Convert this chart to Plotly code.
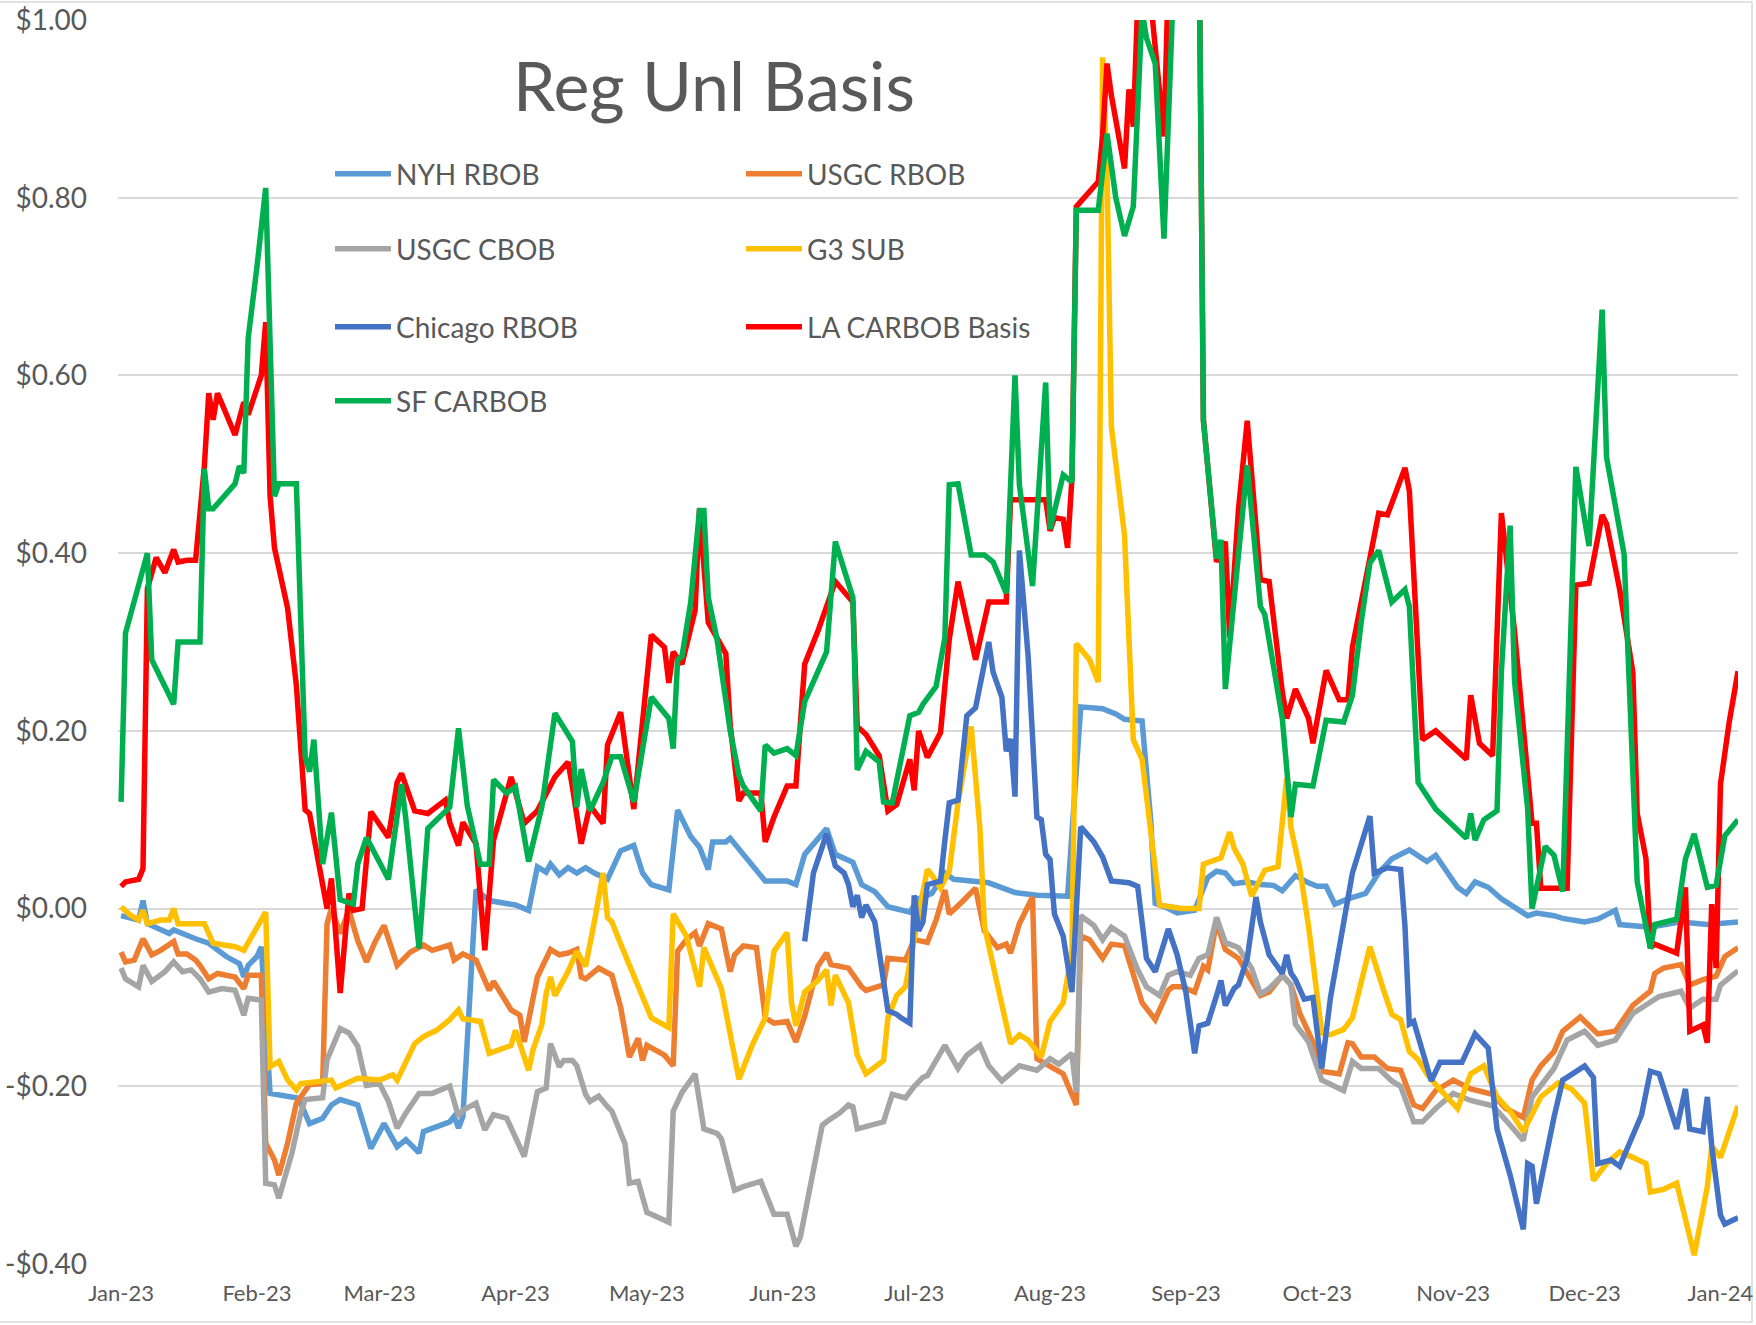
import pandas as pd
import plotly.graph_objects as go

# ---------------- data (day 0 = 2023-01-01) ----------------
BASE = pd.Timestamp("2023-01-01")

nyh_day = [0, 4, 5, 6, 11, 12, 17, 20, 24, 27, 28, 29, 31, 32, 34, 40, 41, 43, 46, 48, 50, 54, 57, 60, 63, 65,
           68, 69, 75, 76, 77, 78, 81, 84, 90, 93, 95, 97, 98, 100, 102, 104, 106, 108, 111, 114, 117, 119, 121,
           125, 127, 130, 132, 134, 135, 138, 139, 143, 147, 152, 154, 156, 161, 163, 167, 169, 172, 175, 180,
           182, 185, 188, 190, 194, 198, 204, 209, 216, 219, 224, 227, 229, 233, 235, 236, 239, 241, 245, 248,
           250, 252, 254, 257, 260, 263, 265, 268, 271, 273, 275, 277, 280, 284, 287, 290, 294, 296, 298, 300,
           303, 305, 307, 309, 312, 315, 321, 323, 327, 329, 334, 337, 341, 342, 349, 356, 362, 369]
nyh_val = [-0.008, -0.013, 0.009, -0.017, -0.028, -0.024, -0.034, -0.039, -0.054, -0.062, -0.077, -0.064,
           -0.054, -0.043, -0.208, -0.213, -0.219, -0.242, -0.236, -0.221, -0.215, -0.221, -0.270, -0.242,
           -0.268, -0.260, -0.275, -0.251, -0.240, -0.234, -0.247, -0.234, 0.021, 0.009, 0.004, -0.002, 0.047,
           0.041, 0.050, 0.038, 0.046, 0.040, 0.046, 0.040, 0.033, 0.065, 0.071, 0.040, 0.027, 0.021, 0.111,
           0.081, 0.069, 0.044, 0.075, 0.075, 0.079, 0.056, 0.031, 0.031, 0.027, 0.061, 0.090, 0.061, 0.052,
           0.027, 0.019, 0.002, -0.004, 0.011, 0.017, 0.040, 0.033, 0.031, 0.029, 0.018, 0.015, 0.014, 0.227,
           0.225, 0.219, 0.213, 0.211, 0.098, 0.006, 0.000, -0.005, -0.002, 0.035, 0.042, 0.040, 0.028, 0.030,
           0.027, 0.026, 0.020, 0.037, 0.029, 0.025, 0.025, 0.005, 0.011, 0.017, 0.040, 0.056, 0.066, 0.060,
           0.053, 0.060, 0.037, 0.024, 0.017, 0.030, 0.024, 0.011, -0.008, -0.005, -0.008, -0.011, -0.015,
           -0.012, -0.002, -0.018, -0.021, -0.015, -0.018, -0.015]

usgc_rbob_day = [0, 1, 3, 5, 7, 9, 12, 13, 15, 17, 18, 20, 22, 26, 28, 29, 32, 33, 35, 36, 38, 40, 43, 46, 47,
                 48, 50, 52, 54, 56, 58, 60, 63, 66, 69, 71, 75, 76, 78, 81, 84, 85, 89, 91, 92, 95, 98, 100,
                 102, 104, 105, 106, 109, 112, 114, 116, 118, 119, 120, 124, 126, 127, 129, 131, 132, 134, 137,
                 139, 140, 142, 145, 147, 149, 152, 154, 156, 159, 161, 162, 166, 169, 170, 174, 175, 179, 181,
                 184, 186, 188, 189, 192, 195, 197, 200, 202, 203, 205, 208, 209, 212, 215, 216, 218, 219, 221,
                 224, 226, 229, 231, 233, 236, 239, 240, 242, 245, 247, 248, 250, 252, 255, 258, 260, 262, 265,
                 267, 269, 272, 274, 278, 280, 281, 283, 286, 289, 292, 295, 297, 300, 304, 308, 313, 316, 320,
                 322, 324, 327, 329, 333, 337, 341, 345, 349, 350, 352, 356, 358, 361, 364, 366, 369]
usgc_rbob_val = [-0.049, -0.060, -0.058, -0.034, -0.052, -0.047, -0.037, -0.051, -0.051, -0.058, -0.064,
                 -0.079, -0.073, -0.077, -0.090, -0.075, -0.075, -0.264, -0.283, -0.300, -0.264, -0.219, -0.198,
                 -0.197, -0.017, 0.000, -0.028, -0.002, -0.036, -0.060, -0.037, -0.019, -0.064, -0.049, -0.041,
                 -0.047, -0.041, -0.058, -0.051, -0.058, -0.092, -0.082, -0.114, -0.120, -0.150, -0.077, -0.046,
                 -0.052, -0.050, -0.046, -0.077, -0.079, -0.067, -0.075, -0.111, -0.167, -0.146, -0.171, -0.154,
                 -0.165, -0.177, -0.048, -0.035, -0.027, -0.042, -0.017, -0.023, -0.071, -0.052, -0.042, -0.044,
                 -0.123, -0.129, -0.127, -0.150, -0.121, -0.065, -0.050, -0.063, -0.067, -0.088, -0.092, -0.086,
                 -0.056, -0.058, -0.035, -0.038, -0.013, 0.021, -0.006, 0.008, 0.023, -0.025, -0.044, -0.040,
                 -0.050, -0.017, 0.013, -0.169, -0.177, -0.186, -0.198, -0.221, -0.031, -0.035, -0.056, -0.040,
                 -0.042, -0.073, -0.106, -0.125, -0.092, -0.088, -0.088, -0.094, -0.065, -0.069, -0.015, -0.046,
                 -0.056, -0.081, -0.098, -0.094, -0.075, -0.086, -0.118, -0.150, -0.183, -0.186, -0.151, -0.152,
                 -0.167, -0.167, -0.180, -0.182, -0.221, -0.225, -0.205, -0.193, -0.203, -0.209, -0.225, -0.235,
                 -0.193, -0.177, -0.161, -0.138, -0.122, -0.141, -0.138, -0.109, -0.093, -0.073, -0.067, -0.063,
                 -0.086, -0.080, -0.076, -0.054, -0.044]

usgc_cbob_day = [0, 1, 4, 5, 7, 10, 12, 14, 16, 18, 20, 23, 26, 28, 29, 32, 33, 35, 36, 39, 41, 42, 46, 47, 50,
                 52, 54, 55, 56, 59, 61, 63, 65, 68, 71, 75, 77, 78, 81, 83, 85, 88, 90, 92, 95, 97, 98, 100,
                 101, 103, 104, 106, 107, 109, 111, 112, 115, 116, 118, 120, 121, 125, 126, 128, 131, 133, 136,
                 137, 140, 142, 146, 149, 152, 154, 155, 160, 161, 164, 166, 167, 168, 171, 174, 176, 179, 181,
                 183, 184, 188, 191, 193, 196, 198, 201, 202, 205, 209, 212, 214, 217, 218, 219, 222, 224, 226,
                 229, 232, 234, 237, 239, 241, 244, 246, 248, 250, 252, 255, 258, 260, 262, 265, 267, 268, 271,
                 272, 274, 279, 281, 283, 287, 290, 292, 295, 297, 300, 304, 308, 313, 316, 320, 322, 327, 330,
                 334, 337, 341, 345, 349, 351, 356, 358, 361, 364, 365, 369]
usgc_cbob_val = [-0.067, -0.079, -0.088, -0.064, -0.082, -0.071, -0.060, -0.071, -0.069, -0.079, -0.094,
                 -0.090, -0.092, -0.120, -0.101, -0.103, -0.309, -0.311, -0.326, -0.275, -0.230, -0.215, -0.213,
                 -0.170, -0.135, -0.140, -0.155, -0.174, -0.199, -0.197, -0.217, -0.247, -0.230, -0.208, -0.208,
                 -0.200, -0.234, -0.227, -0.219, -0.249, -0.232, -0.236, -0.258, -0.279, -0.206, -0.202, -0.152,
                 -0.178, -0.171, -0.171, -0.177, -0.209, -0.217, -0.211, -0.223, -0.228, -0.265, -0.309, -0.307,
                 -0.342, -0.344, -0.353, -0.228, -0.207, -0.186, -0.248, -0.253, -0.259, -0.317, -0.313, -0.307,
                 -0.344, -0.344, -0.380, -0.370, -0.244, -0.240, -0.230, -0.221, -0.223, -0.248, -0.244, -0.240,
                 -0.209, -0.213, -0.200, -0.190, -0.188, -0.154, -0.180, -0.165, -0.154, -0.177, -0.194, -0.190,
                 -0.177, -0.182, -0.169, -0.175, -0.163, -0.207, -0.008, -0.019, -0.035, -0.021, -0.031, -0.069,
                 -0.088, -0.098, -0.075, -0.071, -0.075, -0.056, -0.052, -0.010, -0.038, -0.044, -0.067, -0.096,
                 -0.090, -0.075, -0.086, -0.130, -0.150, -0.165, -0.193, -0.205, -0.172, -0.180, -0.180, -0.194,
                 -0.200, -0.240, -0.240, -0.225, -0.208, -0.216, -0.222, -0.238, -0.261, -0.212, -0.180, -0.148,
                 -0.138, -0.154, -0.148, -0.118, -0.106, -0.099, -0.093, -0.112, -0.102, -0.102, -0.086, -0.070]

g3_day = [0, 2, 4, 5, 6, 9, 11, 12, 13, 16, 19, 21, 24, 26, 28, 30, 33, 34, 36, 38, 40, 41, 46, 48, 49, 54, 59,
          62, 63, 67, 69, 72, 75, 77, 78, 82, 84, 86, 89, 90, 93, 94, 96, 97, 98, 99, 102, 104, 106, 108, 110,
          111, 112, 114, 117, 119, 121, 125, 126, 129, 132, 133, 137, 141, 144, 147, 149, 152, 153, 154, 156,
          159, 161, 162, 163, 166, 168, 170, 174, 175, 177, 179, 181, 183, 184, 185, 187, 189, 191, 194, 196,
          197, 200, 203, 205, 207, 210, 212, 215, 216, 217, 218, 221, 223, 224, 225, 226, 229, 231, 233, 237,
          242, 246, 247, 251, 253, 254, 256, 258, 261, 264, 266, 267, 269, 271, 273, 274, 276, 279, 281, 285,
          288, 290, 292, 294, 296, 298, 300, 302, 305, 308, 311, 314, 317, 320, 322, 324, 328, 331, 334, 336,
          339, 342, 345, 348, 349, 352, 355, 359, 362, 363, 365, 369]
g3_val = [0.002, -0.007, -0.013, -0.002, -0.017, -0.013, -0.013, 0.000, -0.017, -0.017, -0.017, -0.039, -0.041,
          -0.043, -0.047, -0.030, -0.004, -0.178, -0.172, -0.193, -0.204, -0.197, -0.195, -0.193, -0.202,
          -0.191, -0.193, -0.187, -0.193, -0.152, -0.144, -0.137, -0.125, -0.114, -0.124, -0.127, -0.163,
          -0.159, -0.154, -0.137, -0.182, -0.159, -0.131, -0.096, -0.077, -0.098, -0.071, -0.048, -0.065,
          -0.015, 0.040, -0.010, -0.015, -0.040, -0.075, -0.102, -0.123, -0.134, -0.006, -0.031, -0.088,
          -0.044, -0.090, -0.192, -0.154, -0.123, -0.048, -0.027, -0.106, -0.132, -0.094, -0.081, -0.069,
          -0.109, -0.075, -0.106, -0.165, -0.186, -0.171, -0.123, -0.098, -0.088, -0.031, 0.019, 0.044, 0.038,
          0.023, 0.042, 0.119, 0.205, 0.090, -0.019, -0.086, -0.152, -0.142, -0.148, -0.167, -0.127, -0.106,
          -0.077, -0.048, 0.298, 0.280, 0.255, 0.958, 0.830, 0.542, 0.420, 0.190, 0.168, 0.004, 0.000, 0.000,
          0.050, 0.057, 0.086, 0.068, 0.050, 0.014, 0.043, 0.047, 0.147, 0.090, 0.045, -0.020, -0.100, -0.140,
          -0.142, -0.136, -0.123, -0.043, -0.090, -0.119, -0.125, -0.161, -0.170, -0.186, -0.198, -0.209,
          -0.225, -0.186, -0.177, -0.212, -0.228, -0.251, -0.232, -0.212, -0.196, -0.203, -0.219, -0.306,
          -0.287, -0.274, -0.280, -0.287, -0.319, -0.316, -0.309, -0.390, -0.313, -0.267, -0.280, -0.222]

chicago_day = [156, 158, 161, 163, 165, 166, 167, 168, 169, 170, 172, 173, 175, 177, 178, 180, 181, 182, 183,
               184, 187, 188, 189, 191, 193, 195, 198, 199, 201, 202, 203, 204, 205, 207, 208, 209, 210, 211,
               212, 213, 215, 217, 219, 222, 224, 226, 230, 232, 234, 236, 239, 241, 243, 245, 246, 248, 250,
               251, 252, 254, 255, 257, 259, 260, 262, 265, 266, 267, 268, 270, 272, 274, 276, 279, 281, 285,
               286, 289, 292, 293, 294, 295, 297, 299, 301, 306, 309, 312, 314, 317, 320, 321, 322, 323, 327,
               329, 330, 334, 336, 337, 340, 342, 347, 349, 351, 353, 355, 357, 358, 361, 362, 363, 365, 366,
               369]
chicago_val = [-0.037, 0.040, 0.084, 0.048, 0.040, 0.027, 0.002, 0.015, -0.010, 0.004, -0.015, -0.048, -0.115,
               -0.119, -0.123, -0.129, 0.015, -0.025, -0.015, 0.027, 0.031, 0.077, 0.119, 0.122, 0.217, 0.226,
               0.300, 0.266, 0.238, 0.177, 0.191, 0.126, 0.403, 0.284, 0.191, 0.103, 0.100, 0.061, 0.055,
               -0.006, -0.031, -0.094, 0.092, 0.075, 0.058, 0.031, 0.029, 0.025, -0.056, -0.071, -0.023,
               -0.052, -0.094, -0.163, -0.132, -0.129, -0.098, -0.081, -0.109, -0.090, -0.086, -0.056, 0.013,
               -0.015, -0.052, -0.073, -0.052, -0.073, -0.080, -0.102, -0.100, -0.180, -0.100, -0.020, 0.040,
               0.104, 0.040, 0.046, 0.044, -0.020, -0.130, -0.127, -0.159, -0.194, -0.173, -0.173, -0.141,
               -0.157, -0.248, -0.300, -0.361, -0.287, -0.290, -0.332, -0.235, -0.193, -0.190, -0.177, -0.190,
               -0.287, -0.283, -0.290, -0.232, -0.183, -0.186, -0.219, -0.248, -0.203, -0.248, -0.251, -0.212,
               -0.267, -0.345, -0.355, -0.348]

la_day = [0, 1, 4, 5, 6, 7, 8, 10, 12, 13, 15, 17, 19, 20, 21, 22, 26, 28, 29, 32, 33, 34, 35, 38, 40, 42, 43,
          47, 48, 50, 52, 53, 55, 57, 61, 63, 64, 67, 70, 74, 75, 77, 78, 81, 83, 85, 89, 92, 95, 99, 102, 103,
          105, 107, 110, 111, 114, 117, 121, 124, 125, 126, 128, 131, 132, 134, 138, 139, 141, 142, 146, 147,
          149, 152, 154, 156, 159, 163, 167, 168, 170, 173, 175, 177, 180, 181, 182, 184, 187, 189, 191, 195,
          198, 202, 203, 211, 212, 213, 215, 216, 217, 218, 223, 224, 225, 226, 228, 229, 230, 231, 232, 233,
          235, 238, 239, 241, 244, 246, 247, 250, 252, 253, 255, 257, 260, 262, 265, 266, 268, 271, 272, 275,
          278, 280, 281, 285, 287, 289, 293, 294, 297, 300, 307, 308, 310, 313, 315, 318, 322, 323, 324, 330,
          332, 335, 338, 339, 342, 345, 346, 348, 349, 350, 355, 357, 358, 361, 362, 363, 364, 365, 367, 369]
la_val = [0.025, 0.030, 0.033, 0.045, 0.360, 0.378, 0.395, 0.378, 0.404, 0.390, 0.392, 0.392, 0.498, 0.580,
          0.550, 0.580, 0.533, 0.570, 0.556, 0.600, 0.660, 0.464, 0.406, 0.338, 0.251, 0.111, 0.107, 0.000,
          0.034, -0.095, 0.017, -0.002, 0.000, 0.109, 0.080, 0.142, 0.152, 0.110, 0.107, 0.122, 0.097, 0.071,
          0.097, 0.073, -0.047, 0.077, 0.148, 0.096, 0.110, 0.148, 0.165, 0.137, 0.073, 0.116, 0.096, 0.184,
          0.221, 0.112, 0.308, 0.294, 0.254, 0.289, 0.275, 0.336, 0.450, 0.322, 0.287, 0.207, 0.121, 0.130,
          0.130, 0.075, 0.103, 0.138, 0.138, 0.275, 0.312, 0.368, 0.345, 0.205, 0.196, 0.172, 0.110, 0.117,
          0.168, 0.133, 0.200, 0.170, 0.198, 0.303, 0.368, 0.280, 0.345, 0.345, 0.460, 0.460, 0.425, 0.440,
          0.438, 0.406, 0.485, 0.790, 0.818, 0.870, 0.951, 0.915, 0.865, 0.833, 0.922, 0.880, 1.020, 1.060,
          1.020, 0.869, 1.050, 1.120, 1.150, 1.100, 0.550, 0.390, 0.413, 0.305, 0.449, 0.549, 0.370, 0.368,
          0.244, 0.214, 0.247, 0.214, 0.186, 0.268, 0.235, 0.235, 0.294, 0.400, 0.445, 0.443, 0.496, 0.470,
          0.190, 0.200, 0.168, 0.240, 0.186, 0.172, 0.445, 0.312, 0.096, 0.096, 0.023, 0.023, 0.364, 0.366,
          0.443, 0.433, 0.359, 0.266, 0.107, 0.056, -0.044, -0.040, -0.050, 0.024, -0.138, -0.131, -0.151,
          0.005, -0.067, 0.140, 0.210, 0.267]

sf_day = [0, 1, 6, 7, 12, 13, 18, 19, 20, 21, 26, 27, 28, 29, 31, 33, 35, 36, 40, 42, 43, 44, 46, 48, 50, 53,
          54, 56, 61, 64, 65, 68, 70, 75, 77, 79, 82, 84, 85, 88, 90, 93, 96, 99, 103, 104, 105, 107, 110, 112,
          114, 117, 121, 125, 126, 127, 128, 130, 132, 133, 134, 136, 139, 141, 142, 146, 147, 149, 152, 154,
          156, 161, 163, 167, 168, 170, 173, 174, 176, 178, 180, 182, 183, 186, 188, 189, 191, 194, 197, 199,
          202, 204, 205, 208, 211, 212, 215, 217, 218, 223, 225, 227, 229, 231, 233, 234, 236, 238, 240, 241,
          243, 246, 247, 250, 251, 252, 257, 260, 261, 265, 267, 268, 272, 275, 279, 281, 283, 285, 287, 290,
          293, 294, 296, 300, 307, 308, 309, 311, 314, 315, 317, 318, 321, 322, 325, 327, 329, 332, 335, 338,
          339, 343, 346, 349, 350, 355, 357, 359, 362, 364, 366, 369]
sf_val = [0.120, 0.310, 0.400, 0.280, 0.230, 0.300, 0.300, 0.495, 0.450, 0.450, 0.478, 0.498, 0.490, 0.642,
          0.722, 0.811, 0.464, 0.478, 0.478, 0.171, 0.154, 0.190, 0.050, 0.108, 0.010, 0.005, 0.050, 0.080,
          0.033, 0.140, 0.100, -0.045, 0.090, 0.114, 0.203, 0.116, 0.050, 0.050, 0.145, 0.130, 0.137, 0.053,
          0.114, 0.220, 0.188, 0.114, 0.157, 0.110, 0.142, 0.171, 0.171, 0.120, 0.238, 0.214, 0.180, 0.280,
          0.284, 0.345, 0.448, 0.448, 0.350, 0.303, 0.200, 0.150, 0.138, 0.110, 0.184, 0.175, 0.180, 0.172,
          0.233, 0.289, 0.413, 0.350, 0.156, 0.177, 0.165, 0.120, 0.119, 0.172, 0.217, 0.221, 0.230, 0.250,
          0.305, 0.477, 0.478, 0.398, 0.398, 0.390, 0.355, 0.600, 0.477, 0.363, 0.592, 0.427, 0.488, 0.480,
          0.786, 0.786, 0.872, 0.800, 0.757, 0.790, 1.010, 0.980, 0.951, 0.754, 1.000, 1.150, 1.200, 1.100,
          0.549, 0.394, 0.415, 0.247, 0.499, 0.340, 0.331, 0.214, 0.103, 0.140, 0.138, 0.212, 0.210, 0.240,
          0.322, 0.389, 0.403, 0.345, 0.359, 0.340, 0.142, 0.112, 0.079, 0.107, 0.077, 0.100, 0.110, 0.266,
          0.431, 0.256, 0.112, 0.000, 0.070, 0.060, 0.019, 0.497, 0.408, 0.674, 0.508, 0.399, 0.030, -0.045,
          -0.018, -0.012, 0.056, 0.084, 0.024, 0.026, 0.082, 0.100]

series_names = ["NYH RBOB", "USGC RBOB", "USGC CBOB", "G3 SUB", "Chicago RBOB", "LA CARBOB Basis", "SF CARBOB"]
series_colors = ["#5B9BD5", "#ED7D31", "#A5A5A5", "#FFC000", "#4472C4", "#FF0000", "#00B050"]
series_days = [nyh_day, usgc_rbob_day, usgc_cbob_day, g3_day, chicago_day, la_day, sf_day]
series_vals = [nyh_val, usgc_rbob_val, usgc_cbob_val, g3_val, chicago_val, la_val, sf_val]
legend_rows = ["legend", "legend", "legend2", "legend2", "legend3", "legend3", "legend4"]

y_ticks = [-0.4, -0.2, 0.0, 0.2, 0.4, 0.6, 0.8, 1.0]
y_tick_text = ["-$0.40", "-$0.20", "$0.00", "$0.20", "$0.40", "$0.60", "$0.80", "$1.00"]

# ---------------- figure ----------------
W, H = 1756, 1325
ML, MR, MT, MB = 118, 18, 20, 61
PW, PH = W - ML - MR, H - MT - MB
FONT = "Lato, 'Open Sans', Arial, sans-serif"
TXT = "#595959"

fig = go.Figure()
for name, color, days, vals, lg in zip(series_names, series_colors, series_days, series_vals, legend_rows):
    x = BASE + pd.to_timedelta(days, unit="D")
    fig.add_trace(go.Scatter(x=x, y=vals, mode="lines", name=name, legend=lg,
                             line=dict(color=color, width=5.5), hoverinfo="skip"))


def px_x(px):
    return (px - ML) / PW


def px_y(py):
    return (H - MB - py) / PH


legend_common = dict(orientation="h", xanchor="left", yanchor="middle", entrywidth=340,
                     entrywidthmode="pixels", itemwidth=56, bgcolor="rgba(0,0,0,0)",
                     font=dict(family=FONT, size=28, color=TXT), x=px_x(330))
row_y = [174, 249, 327, 401]
fig.update_layout(
    width=W, height=H,
    margin=dict(l=ML, r=MR, t=MT, b=MB, pad=0, autoexpand=False),
    paper_bgcolor="white", plot_bgcolor="white",
    showlegend=True,
    legend=dict(legend_common, y=px_y(row_y[0])),
    legend2=dict(legend_common, y=px_y(row_y[1])),
    legend3=dict(legend_common, y=px_y(row_y[2])),
    legend4=dict(legend_common, y=px_y(row_y[3])),
    xaxis=dict(type="date", range=["2022-12-31 07:00", "2024-01-05"], automargin=False,
               tick0="2023-01-01", dtick="M1", tickformat="%b-%y",
               showgrid=False, zeroline=False, showline=False, ticks="",
               tickfont=dict(family=FONT, size=22, color=TXT), ticklabelstandoff=14),
    yaxis=dict(range=[-0.4, 1.0], tickvals=y_ticks, ticktext=y_tick_text, automargin=False,
               showgrid=True, gridcolor="#D9D9D9", gridwidth=1.5, zeroline=False, showline=False,
               ticks="", tickfont=dict(family=FONT, size=28, color=TXT), ticklabelstandoff=30),
    annotations=[dict(text="Reg Unl Basis", xref="paper", yref="paper", x=px_x(714), y=px_y(85),
                      xanchor="center", yanchor="middle", showarrow=False,
                      font=dict(family=FONT, size=68, color=TXT))],
    shapes=[dict(type="rect", xref="paper", yref="paper", x0=px_x(-5), x1=px_x(1752),
                 y0=px_y(1322), y1=px_y(2), line=dict(color="#D9D9D9", width=1.5), layer="below")],
)

fig.write_html("out.html", config={"displayModeBar": False},
               post_script="document.body.style.margin='0';document.body.style.overflow='hidden';")
